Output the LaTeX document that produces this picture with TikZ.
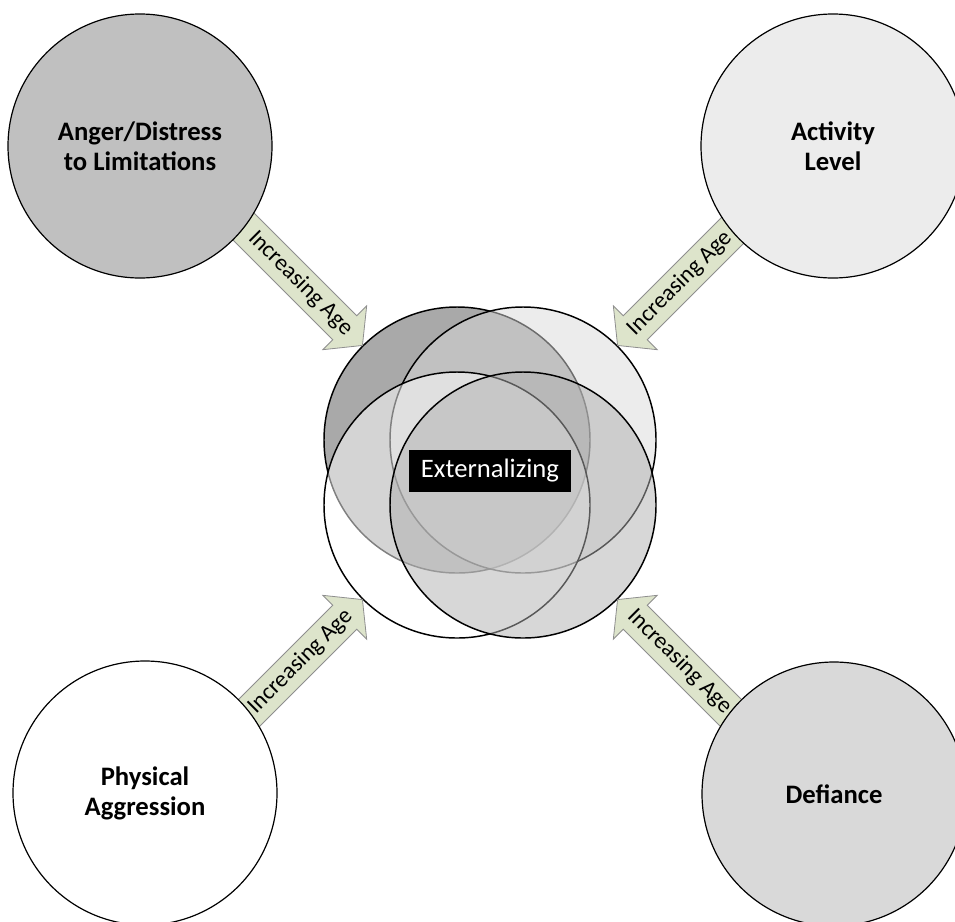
\documentclass[tikz,border=0pt]{standalone}
\usepackage{fontspec}
\setmainfont{Carlito}
\usetikzlibrary{calc}
\definecolor{arrowfill}{HTML}{DDE4CB}
\definecolor{arrowline}{HTML}{8E8E8E}
\definecolor{angerfill}{HTML}{C0C0C0}
\definecolor{activityfill}{HTML}{ECECEC}
\definecolor{defiancefill}{HTML}{D9D9D9}
\definecolor{vennA}{HTML}{A9A9A9}
\definecolor{vennB}{HTML}{D9D9D9}
\definecolor{vennD}{HTML}{B0B0B0}
\newcommand\agearrowshape[2]{%
  \begin{scope}[shift={#1}, rotate=#2]
    \draw[arrowbox] (-180,-17) -- (-25,-17) -- (-25,-31) -- (0,0) -- (-25,31) -- (-25,17) -- (-180,17) -- cycle;
  \end{scope}}
\begin{document}
\begin{tikzpicture}[x=0.75pt,y=-0.75pt,
  corner/.style={circle, draw=black, line width=0.9pt, minimum size=198pt, inner sep=0pt,
    align=center, font=\fontsize{20}{22.5}\selectfont\bfseries},
  venn/.style={circle, draw=black, line width=1.1pt, minimum size=199.5pt, inner sep=0pt},
  arrowbox/.style={draw=arrowline, line width=0.6pt, fill=arrowfill},
  agetext/.style={font=\fontsize{17.5}{20}\selectfont, inner sep=0pt}
]
\useasboundingbox (0,0) rectangle (955,921);

% central overlapping circles
\node[venn, fill=vennA] (vA) at (457,440) {};
\node[venn, fill=vennB, fill opacity=0.5] (vB) at (523,440) {};
\node[venn, fill=white, fill opacity=0.5] (vC) at (457,505) {};
\node[venn, fill=vennD, fill opacity=0.5] (vD) at (523,505) {};

% arrows
\agearrowshape{(vA.135)}{-45}
\agearrowshape{(vB.45)}{-135}
\agearrowshape{(vC.225)}{45}
\agearrowshape{(vD.315)}{135}
\node[agetext, rotate=-45] (tA) at ($(vA.135)+(-62,-62)$) {Increasing Age};
\node[agetext, rotate=45] (tB) at ($(vB.45)+(62,-62)$) {Increasing Age};
\node[agetext, rotate=45] (tC) at ($(vC.225)+(-62,62)$) {Increasing Age};
\node[agetext, rotate=-45] (tD) at ($(vD.315)+(62,62)$) {Increasing Age};

% corner circles
\node[corner, fill=angerfill] (anger) at (140,146) {Anger/Distress\\to Limitations};
\node[corner, fill=activityfill] (activity) at (833,146) {Activity\\Level};
\node[corner, fill=white] (physical) at (145,793) {Physical\\Aggression};
\node[corner, fill=defiancefill] (defiance) at (834,794) {Defiance};

% label
\node[fill=black, text=white, minimum width=122pt, minimum height=31pt, inner sep=0pt,
  font=\fontsize{20}{24}\selectfont] (ext) at (490,471) {Externalizing};
\end{tikzpicture}
\end{document}
